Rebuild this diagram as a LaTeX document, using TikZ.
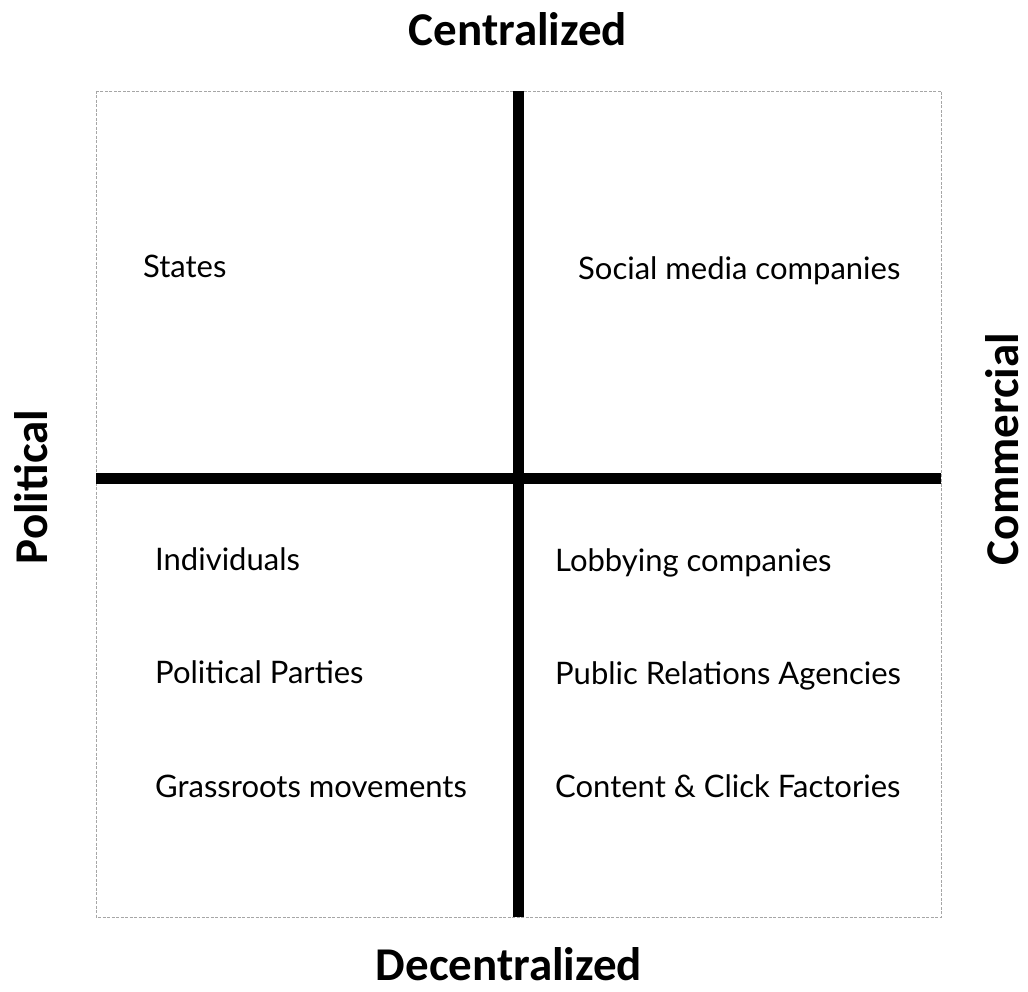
\documentclass[tikz,border=0pt]{standalone}
\usepackage{fontspec}
\setmainfont{Carlito}
\newfontfamily\itemfont{Lato}
\begin{document}
\begin{tikzpicture}[x=1pt,y=-1pt,
  axislabel/.style={font=\fontsize{47}{50}\selectfont\bfseries, inner sep=0pt},
  item/.style={font=\itemfont\fontsize{31}{34}\selectfont, anchor=base west, inner sep=0pt},
  frame/.style={draw=gray!70, line width=0.8pt, dash pattern=on 3pt off 1.5pt},
  axis/.style={line width=11pt, draw=black}]
\useasboundingbox (0,0) rectangle (1028,992);
\fill[white] (0,0) rectangle (1028,992);
\draw[frame] (96,91) rectangle (941,917);
\coordinate (top) at (518,91);
\coordinate (bottom) at (518,917);
\coordinate (left) at (96,478);
\coordinate (right) at (941,478);
\draw[axis] (top) -- (bottom);
\draw[axis] (left) -- (right);
\node[axislabel] (cen) at (518,29) {Centralized};
\node[axislabel] (dec) at (509,964) {Decentralized};
\node[axislabel, rotate=90] (pol) at (31,487) {Political};
\node[axislabel, rotate=90] (com) at (1002,449) {Commercial};
\node[item] (states) at (143,278) {States};
\node[item] (social) at (578,280) {Social media companies};
\node[item] (ind) at (155,570) {Individuals};
\node[item] (pp) at (155,683) {Political Parties};
\node[item] (grass) at (155,797) {Grassroots movements};
\node[item] (lob) at (555,571) {Lobbying companies};
\node[item] (pr) at (555,684) {Public Relations Agencies};
\node[item] (cc) at (555,797) {Content \& Click Factories};
\end{tikzpicture}
\end{document}
